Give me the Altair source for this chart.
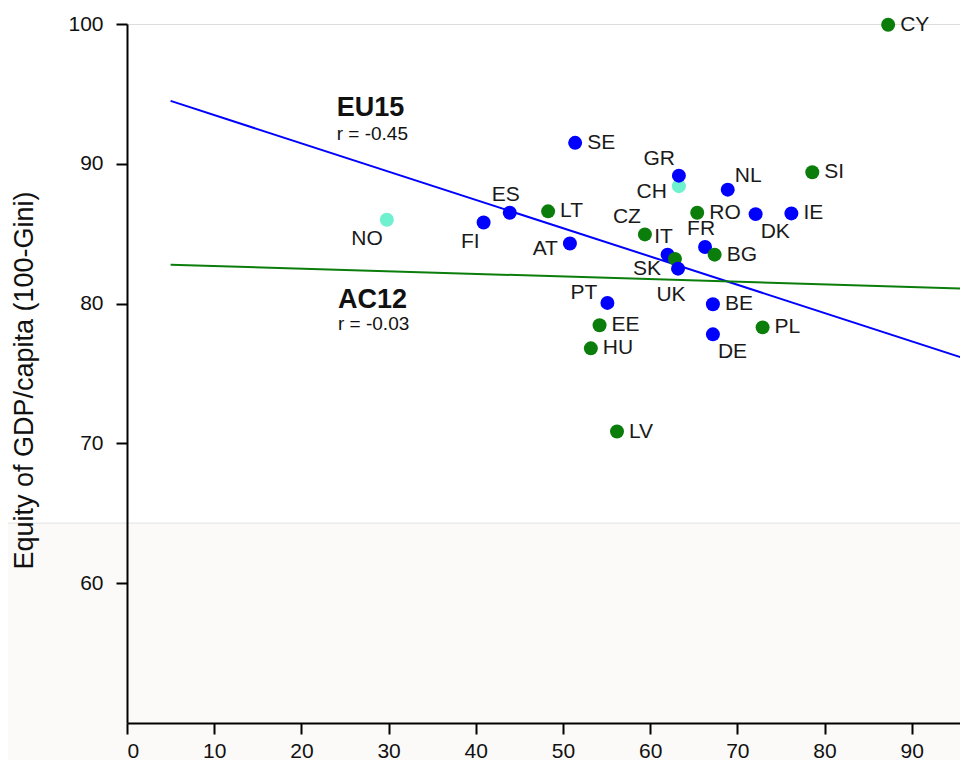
import altair as alt
import pandas as pd

# ---- data ----
codes = ["NO", "CH",
         "SE", "GR", "NL", "DK", "IE", "ES", "FI", "AT", "FR", "IT",
         "CY", "SI", "RO", "LT", "CZ", "BG", "SK",
         "UK", "PT", "BE", "DE",
         "PL", "EE", "HU", "LV"]
groups = ["other", "other",
          "EU15", "EU15", "EU15", "EU15", "EU15", "EU15", "EU15", "EU15", "EU15", "EU15",
          "AC12", "AC12", "AC12", "AC12", "AC12", "AC12", "AC12",
          "EU15", "EU15", "EU15", "EU15",
          "AC12", "AC12", "AC12", "AC12"]
x_vals = [29.8, 63.3,
          51.4, 63.3, 68.9, 72.1, 76.2, 43.9, 40.9, 50.8, 66.3, 62.0,
          87.3, 78.6, 65.4, 48.3, 59.4, 67.4, 62.85,
          63.2, 55.1, 67.2, 67.2,
          72.9, 54.2, 53.2, 56.2]
y_vals = [86.0, 88.4,
          91.5, 89.15, 88.15, 86.4, 86.45, 86.5, 85.8, 84.3, 84.05, 83.5,
          99.95, 89.4, 86.5, 86.6, 84.95, 83.5, 83.2,
          82.5, 80.05, 79.95, 77.8,
          78.3, 78.45, 76.8, 70.85]
label_side = ["bl", "l",
              "r", "al", "ar", "br", "r", "a", "bl", "l", "a", "a",
              "r", "r", "r", "r", "al", "r", "l2",
              "b", "pl", "r", "br",
              "r", "r", "r", "r"]

# regression lines (end points)
fit_group = ["EU15", "EU15", "AC12", "AC12"]
fit_x = [5.0, 96.45, 5.0, 96.45]
fit_y = [94.5, 76.0, 82.78, 81.07]

# annotations
ann_title = ["EU15", "AC12"]
ann_r = ["r = -0.45", "r = -0.03"]
ann_x = [24.05, 24.2]
ann_title_y = [93.39, 79.69]
ann_r_y = [91.72, 78.13]

x_ticks = [0, 10, 20, 30, 40, 50, 60, 70, 80, 90]
y_ticks = [60, 70, 80, 90, 100]
x_max = 95.54

FONT = "Liberation Sans"
W, H = 833, 699
PAD_LEFT, PAD_TOP, PAD_BOTTOM = 119, 16, 37

pts = pd.DataFrame({"code": codes, "group": groups, "x": x_vals, "y": y_vals, "side": label_side})
fits = pd.DataFrame({"group": fit_group, "x": fit_x, "y": fit_y})
ann = pd.DataFrame({"t": ann_title, "r": ann_r, "x": ann_x, "ty": ann_title_y, "ry": ann_r_y})

xs = alt.Scale(domain=[0, x_max], nice=False, zero=False)
ys = alt.Scale(domain=[50, 100], nice=False, zero=False)
cs = alt.Scale(domain=["EU15", "AC12", "other"], range=["#0000ff", "#0a7d0a", "#6ff0cf"])

xax = alt.Axis(values=x_ticks, title=None, grid=False, domainColor="black", domainWidth=2,
               tickColor="black", tickWidth=2, tickSize=11, labelFontSize=21, labelFont=FONT,
               labelColor="#111", labelPadding=6, zindex=1)
yax = alt.Axis(values=y_ticks, title="Equity of GDP/capita (100-Gini)", grid=False,
               domainColor="black", domainWidth=2, tickColor="black", tickWidth=2, tickSize=11,
               labelFontSize=21, labelFont=FONT, labelColor="#111", labelPadding=13,
               titleFont=FONT, titleFontSize=27, titleFontWeight="normal", titleColor="#111",
               titleBaseline="alphabetic", titleX=-94.5, titleY=356, zindex=1)

# faint background band visible in the lower part of the reference
band = alt.Chart(pd.DataFrame({"y": [64.3]})).mark_rect(color="#fbfaf8").encode(
    x=alt.value(-PAD_LEFT), x2=alt.value(W),
    y=alt.Y("y:Q", scale=ys, axis=yax), y2=alt.value(H + PAD_BOTTOM))
band_edge = alt.Chart(pd.DataFrame({"y": [64.3]})).mark_rule(color="#e2e2e2", strokeWidth=1).encode(
    x=alt.value(-PAD_LEFT), x2=alt.value(W), y=alt.Y("y:Q", scale=ys))

lines = alt.Chart(fits).mark_line(strokeWidth=2, clip=True).encode(
    x=alt.X("x:Q", scale=xs, axis=xax),
    y=alt.Y("y:Q", scale=ys),
    color=alt.Color("group:N", scale=cs, legend=None),
    detail="group:N")

points = alt.Chart(pts).mark_circle(size=195, opacity=1).encode(
    x=alt.X("x:Q", scale=xs),
    y=alt.Y("y:Q", scale=ys),
    color=alt.Color("group:N", scale=cs, legend=None))

place = {
    "r": dict(align="left", dx=12, dy=0),
    "l": dict(align="right", dx=-12, dy=6),
    "l2": dict(align="right", dx=-14, dy=10),
    "a": dict(align="center", dx=-4, dy=-18),
    "al": dict(align="right", dx=-4, dy=-17),
    "pl": dict(align="right", dx=-10, dy=-10),
    "ar": dict(align="left", dx=7, dy=-14),
    "b": dict(align="center", dx=-7, dy=26),
    "br": dict(align="left", dx=5, dy=18),
    "bl": dict(align="right", dx=-4, dy=19),
}
label_layers = []
for side, p in place.items():
    label_layers.append(
        alt.Chart(pts).transform_filter(alt.datum.side == side).mark_text(
            font=FONT, fontSize=21, color="#1a1a1a", baseline="middle", **p).encode(
            x=alt.X("x:Q", scale=xs), y=alt.Y("y:Q", scale=ys), text="code:N"))

ann_t = alt.Chart(ann).mark_text(font=FONT, fontSize=27, fontWeight="bold", color="#111",
                                 align="left", baseline="alphabetic").encode(
    x=alt.X("x:Q", scale=xs), y=alt.Y("ty:Q", scale=ys), text="t:N")
ann_rr = alt.Chart(ann).mark_text(font=FONT, fontSize=19, color="#111",
                                  align="left", baseline="alphabetic").encode(
    x=alt.X("x:Q", scale=xs), y=alt.Y("ry:Q", scale=ys), text="r:N")

chart = alt.layer(band, band_edge, lines, points, *label_layers, ann_t, ann_rr).properties(
    width=W, height=H,
    autosize=alt.AutoSizeParams(type="none"),
    padding={"left": PAD_LEFT, "top": PAD_TOP, "right": 0, "bottom": PAD_BOTTOM},
).configure_view(stroke=None).configure(background="white")

chart.save("out.html", embed_options={"renderer": "svg", "actions": False})
